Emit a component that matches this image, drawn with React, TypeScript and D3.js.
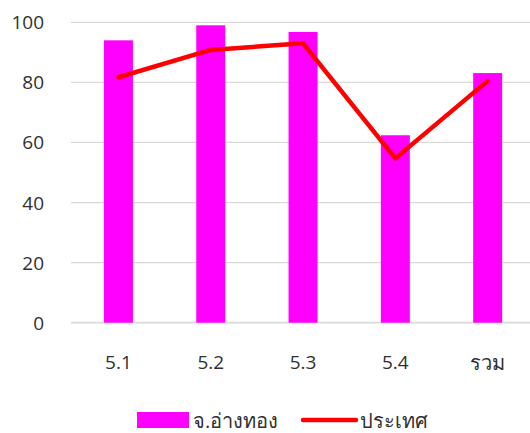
import React from "react";
import * as d3 from "d3";

const categories = ["5.1", "5.2", "5.3", "5.4", "รวม"];
const provinceValues = [94.0, 99.0, 96.8, 62.4, 83.1];
const countryValues = [81.7, 90.8, 93.0, 54.7, 80.5];
const yTicks = [0, 20, 40, 60, 80, 100];
const seriesNames = ["จ.อ่างทอง", "ประเทศ"];

const W = 530;
const H = 433;
const FONT = "'Open Sans', 'Noto Sans', 'DejaVu Sans', sans-serif";

export default function App() {
  const axisLeft = 71;
  const bandStart = 72.3;
  const band = 92.3;
  const x = d3
    .scaleBand<string>()
    .domain(categories)
    .range([bandStart, bandStart + band * categories.length])
    .paddingInner(0.686)
    .paddingOuter(0.343);
  const y = d3.scaleLinear().domain([0, 100]).range([322.7, 22.3]);

  const line = d3
    .line<number>()
    .x((_, i) => (x(categories[i]) as number) + x.bandwidth() / 2)
    .y((d) => y(d));

  return (
    <svg
      width={W}
      height={H}
      style={{ position: "absolute", left: 0, top: 0, background: "#fff" }}
      fontFamily={FONT}
    >
      {yTicks.map((t) => (
        <g key={t}>
          <line
            x1={axisLeft}
            x2={W}
            y1={y(t)}
            y2={y(t)}
            stroke="#d9d9d9"
            strokeWidth={t === 0 ? 1.8 : 1.3}
          />
          <text
            x={44}
            y={y(t)}
            textAnchor="end"
            dominantBaseline="central"
            fontSize={19}
            fill="#303030"
          >
            {t}
          </text>
        </g>
      ))}
      {categories.map((c, i) => (
        <rect
          key={c}
          x={x(c)}
          y={y(provinceValues[i])}
          width={x.bandwidth()}
          height={y(0) - y(provinceValues[i])}
          fill="#ff00ff"
        />
      ))}
      <path
        d={line(countryValues) || ""}
        fill="none"
        stroke="#ff0000"
        strokeWidth={4.5}
        strokeLinejoin="round"
        strokeLinecap="round"
      />
      {categories.map((c) => (
        <text
          key={c}
          x={(x(c) as number) + x.bandwidth() / 2}
          y={362}
          textAnchor="middle"
          dominantBaseline="central"
          fontSize={c === "รวม" ? 20 : 19}
          fill="#303030"
        >
          {c}
        </text>
      ))}
      <rect x={137} y={412} width={52} height={16} fill="#ff00ff" />
      <text x={193} y={420} dominantBaseline="central" fontSize={20} fill="#303030">
        {seriesNames[0]}
      </text>
      <line x1={303} x2={356} y1={420} y2={420} stroke="#ff0000" strokeWidth={4.5} strokeLinecap="round" />
      <text x={360} y={420} dominantBaseline="central" fontSize={20} fill="#303030">
        {seriesNames[1]}
      </text>
    </svg>
  );
}
